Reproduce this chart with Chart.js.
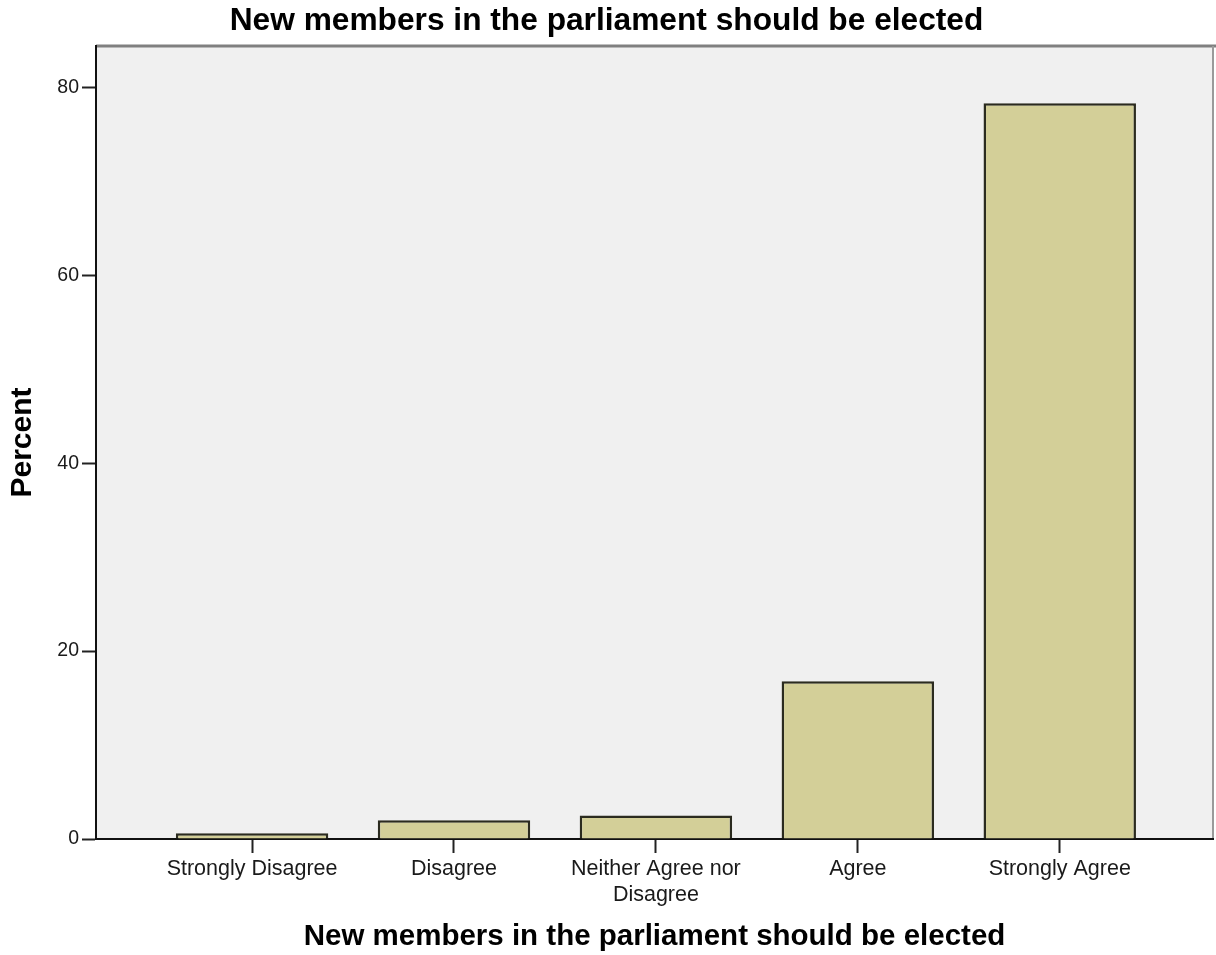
<!DOCTYPE html>
<html>
<head>
<meta charset="utf-8">
<script src="https://cdn.jsdelivr.net/npm/chart.js@4/dist/chart.umd.min.js"></script>
<style>
  html, body { margin: 0; padding: 0; background: #ffffff; }
  #wrap { width: 1216px; height: 955px; position: relative; }
</style>
</head>
<body>
<div id="wrap"><canvas id="c" width="1216" height="955"></canvas></div>
<script>
const chartTitle = "New members in the parliament should be elected";
const categories = ["Strongly Disagree", "Disagree", ["Neither Agree nor", "Disagree"], "Agree", "Strongly Agree"];
const percents = [0.6, 2.0, 2.5, 16.8, 78.3];
const yTickValues = [0, 20, 40, 60, 80];
const yTitle = "Percent";

const FONT = "'Liberation Sans', Arial, Helvetica, sans-serif";

const plotBackground = {
  id: 'plotBackground',
  beforeDraw(chart) {
    const { ctx, chartArea: a } = chart;
    ctx.save();
    ctx.fillStyle = '#f0f0f0';
    ctx.fillRect(a.left, a.top, a.right - a.left, a.bottom - a.top);
    ctx.strokeStyle = '#808080';
    ctx.lineWidth = 3;
    ctx.beginPath();
    ctx.moveTo(a.left, a.top);
    ctx.lineTo(chart.width, a.top);
    ctx.stroke();
    ctx.lineWidth = 2;
    ctx.strokeStyle = '#9a9a9a';
    ctx.beginPath();
    ctx.moveTo(a.right, a.top);
    ctx.lineTo(a.right, a.bottom);
    ctx.stroke();
    ctx.restore();
  }
};

new Chart(document.getElementById('c'), {
  type: 'bar',
  data: {
    datasets: [{
      data: percents.map((v, i) => ({ x: i, y: v })),
      backgroundColor: '#d3cf98',
      borderColor: '#2b2b1f',
      borderWidth: 2.5,
      borderSkipped: 'bottom',
      categoryPercentage: 1,
      barPercentage: 0.755
    }]
  },
  options: {
    responsive: false,
    animation: false,
    devicePixelRatio: 1,
    layout: { padding: { left: 0, right: 3, top: 0, bottom: 0 } },
    plugins: {
      legend: { display: false },
      tooltip: { enabled: false },
      title: {
        display: true,
        text: chartTitle,
        color: '#000',
        font: { family: FONT, size: 31.7, weight: 'bold' },
        padding: { top: 2, bottom: 6 }
      }
    },
    scales: {
      x: {
        type: 'linear',
        offset: false,
        min: -0.773,
        max: 4.759,
        afterBuildTicks: s => { s.ticks = categories.map((_, i) => ({ value: i })); },
        afterFit: s => { s.height = 116; },
        ticks: {
          autoSkip: false,
          maxRotation: 0,
          minRotation: 0,
          padding: 3,
          color: '#1a1a1a',
          font: { family: FONT, size: 21.5 },
          callback: v => categories[v]
        },
        grid: {
          offset: false,
          drawOnChartArea: false,
          drawTicks: true,
          tickLength: 14,
          tickColor: '#222',
          tickWidth: 2
        },
        border: { display: true, color: '#111', width: 2 },
        title: {
          display: true,
          text: chartTitle,
          color: '#000',
          font: { family: FONT, size: 29.5, weight: 'bold' },
          padding: { top: 0, bottom: 0 }
        }
      },
      y: {
        min: 0,
        max: 84.4,
        afterBuildTicks: s => { s.ticks = yTickValues.map(v => ({ value: v })); },
        afterFit: s => { s.width = 96; },
        ticks: {
          padding: 3,
          color: '#1a1a1a',
          font: { family: FONT, size: 19.5 }
        },
        grid: {
          drawOnChartArea: false,
          drawTicks: true,
          tickLength: 14,
          tickColor: '#222',
          tickWidth: 2
        },
        border: { display: true, color: '#111', width: 2 },
        title: {
          display: true,
          text: yTitle,
          color: '#000',
          font: { family: FONT, size: 30, weight: 'bold' },
          padding: { top: 5, bottom: 0 }
        }
      }
    }
  },
  plugins: [plotBackground]
});
</script>
</body>
</html>
